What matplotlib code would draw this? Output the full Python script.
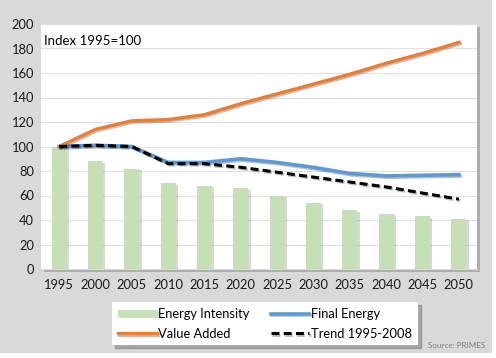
import matplotlib
matplotlib.use("Agg")
import matplotlib.pyplot as plt
import matplotlib.patheffects as pe
from matplotlib.patches import Rectangle
import numpy as np

years = ["1995", "2000", "2005", "2010", "2015", "2020", "2025", "2030", "2035", "2040", "2045", "2050"]
energy_intensity = [100, 88, 82, 70, 68, 66, 60, 54, 48, 45, 43, 41]
value_added = [100, 114, 121, 122, 126, 135, 143, 151, 159, 168, 176, 185]
final_energy = [100, 101, 100, 87, 87, 90, 87, 83, 78, 76, 76.5, 77]
trend = [100, 101, 100, 86, 86, 83, 79, 75, 71, 67, 62, 57]

plt.rcParams['font.family'] = ['Lato', 'DejaVu Sans']

fig = plt.figure(figsize=(4.96, 3.58), dpi=100)
fig.patch.set_facecolor('white')
fig.patches.append(Rectangle((0, 5/358), 492/496, 353/358, transform=fig.transFigure,
                             facecolor='#d9d9d9', edgecolor='none', zorder=-10))

ax = fig.add_axes([41/496, 1-269/358, 436/496, 245/358])
ax.set_facecolor('white')
ax.patch.set_path_effects([pe.SimplePatchShadow(offset=(2, -2), alpha=0.3), pe.Normal()])

x = np.arange(len(years))
bars = ax.bar(x, energy_intensity, width=0.42, color='#c5e0b4', zorder=2, label='Energy Intensity')
for b in bars:
    b.set_path_effects([pe.SimplePatchShadow(offset=(1.5, -1), alpha=0.2), pe.Normal()])

sh = [pe.SimpleLineShadow(offset=(1.0, -1.0), alpha=0.25), pe.Normal()]
l_va, = ax.plot(x, value_added, color='#ed7d31', lw=2.4, zorder=4, label='Value Added', path_effects=sh)
l_fe, = ax.plot(x, final_energy, color='#5b9bd5', lw=2.6, zorder=3, label='Final Energy', path_effects=sh)
l_tr, = ax.plot(x, trend, color='black', lw=2.2, ls=(0, (2.6, 1.4)), zorder=5, label='Trend 1995-2008', path_effects=sh)

ax.set_xlim(-0.5, len(years) - 0.5)
ax.set_ylim(0, 200)
ax.set_yticks(range(0, 201, 20))
ax.set_xticks(x)
ax.set_xticklabels(years)
ax.grid(axis='y', color='#e0e0e0', lw=0.8, zorder=0)
ax.set_axisbelow(True)
for s in ['top', 'right', 'left']:
    ax.spines[s].set_visible(False)
ax.spines['bottom'].set_color('#d9d9d9')
ax.spines['bottom'].set_linewidth(0.8)
ax.tick_params(axis='both', length=0, labelsize=9.3, colors='#1a1a1a')
ax.tick_params(axis='y', pad=5)
ax.tick_params(axis='x', pad=7)

ax.text(0.006, 0.955, 'Index 1995=100', transform=ax.transAxes, fontsize=9.5,
        color='black', va='top', ha='left')

leg = fig.legend([bars, l_va, l_fe, l_tr],
                 ['Energy Intensity', 'Value Added', 'Final Energy', 'Trend 1995-2008'],
                 ncol=2, loc='upper left', bbox_to_anchor=(112/496, 1-302/358),
                 frameon=True, fancybox=False, shadow={'ox': 2, 'oy': -2, 'alpha': 0.35},
                 fontsize=9.3, handlelength=3.0, handleheight=0.5, handletextpad=0.15,
                 columnspacing=1.6, borderpad=0.45, labelspacing=0.6, borderaxespad=0)
leg.get_frame().set_facecolor('white')
leg.get_frame().set_edgecolor('none')

fig.text(485/496, 1-346/358, 'Source: PRIMES', fontsize=5.8, color='#808080', ha='right', va='center')

fig.savefig('out.png', dpi=100, facecolor=fig.get_facecolor())
